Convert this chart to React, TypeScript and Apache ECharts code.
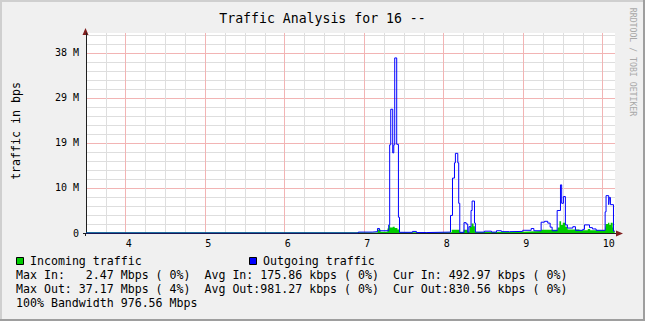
import React, { useEffect, useRef } from 'react';
import * as echarts from 'echarts';

// ---- texts ----
const TITLE = 'Traffic Analysis for 16 --';
const Y_AXIS_TITLE = 'traffic in bps';
const WATERMARK = 'RRDTOOL / TOBI OETIKER';
const legendNames = ['Incoming traffic', 'Outgoing traffic'];
const legendColors = ['#00cc00', '#0000ff'];
const statLines = [
  'Max In:   2.47 Mbps ( 0%)  Avg In: 175.86 kbps ( 0%)  Cur In: 492.97 kbps ( 0%)',
  'Max Out: 37.17 Mbps ( 4%)  Avg Out:981.27 kbps ( 0%)  Cur Out:830.56 kbps ( 0%)',
  '100% Bandwidth 976.56 Mbps',
];

// ---- axes (x: minutes after midnight, y: Mbit/s, labels in 2^20 units) ----
const X_MIN = 210;
const X_MAX = 609.25;
const Y_MAX = 44.44;
const hourTicks = [240, 300, 360, 420, 480, 540, 600];

// ---- data: step change points (minute, Mbit/s) ----
const inTimes = [210, 415.6, 430, 432.3, 437.5, 438.5, 439.5, 441.5, 443, 445, 446.6, 486, 492, 495, 498, 499.5, 501, 502.5, 503.5, 520, 539.6, 553.5, 566, 567.3, 568.6, 569.8, 571.8, 573.5, 582.4, 588.7, 590.5, 601.8, 602.3, 604, 605, 606, 607.5, 608.1, 609];
const inMbps = [0.15, 0.1, 0.8, 0.3, 1.0, 1.7, 1.2, 1.4, 1.1, 0.8, 0.15, 0.7, 0.2, 0.7, 0.3, 1.4, 2.1, 1.5, 0.2, 0.3, 0.45, 0.7, 1.2, 2.6, 1.8, 2.3, 1.4, 0.8, 0.6, 0.9, 0.6, 1.0, 2.0, 2.3, 1.8, 2.3, 1.2, 0.5, 0.5];

const outTimes = [210, 415.5, 426, 430, 431.5, 438.5, 439.2, 440, 441.5, 442.3, 443, 444.5, 445.8, 446.6, 456.4, 459.4, 466.9, 485.1, 486.6, 488.1, 488.8, 490.6, 491.3, 492.1, 495.3, 496.9, 498.1, 499, 500.6, 501.4, 503.2, 503.9, 510.7, 516, 519.8, 523.5, 529.6, 539.6, 546, 548, 553.5, 556, 558.5, 560.3, 561.8, 565.6, 568.1, 569, 570.3, 571.8, 573.3, 577.4, 579.4, 584.9, 586.2, 590, 592.2, 595, 601.8, 602.5, 604.5, 605, 605.8, 608.1, 609];
const outMbps = [0, 0.2, 0.3, 1.0, 0.5, 1.8, 19.6, 27.5, 17.8, 19.6, 38.9, 19.7, 3.5, 0.15, 0.35, 0.1, 0.2, 3.9, 12.2, 15.6, 17.7, 15.6, 6.6, 0.15, 2.3, 2.0, 0.15, 1.4, 5.0, 7.1, 2.2, 0.2, 0.4, 0.2, 0.5, 0.3, 0.35, 0.6, 1.0, 0.5, 2.4, 2.6, 2.2, 1.3, 0.5, 5.0, 10.7, 6.6, 8.1, 1.8, 1.1, 1.4, 0.6, 0.8, 1.8, 1.2, 0.9, 0.6, 4.7, 8.3, 6.3, 7.9, 6.3, 0.4, 0.4];

const MONO = '"DejaVu Sans Mono", monospace';
const MINOR = '#dedede';
const MAJOR = '#f2b4b4';
const AXIS = '#1f1f1f';
const ARROW = '#801f1f';

function pieces(line: string) {
  const out: { text: string; col: number }[] = [];
  const re = /\S+(?: \S+)*/g;
  let m: RegExpExecArray | null;
  while ((m = re.exec(line))) out.push({ text: m[0], col: m.index });
  return out;
}

export default function App() {
  const ref = useRef<HTMLDivElement>(null);
  useEffect(() => {
    if (!ref.current) return;
    const chart = echarts.init(ref.current, undefined, { renderer: 'svg' });
    const gl = 86, gt = 33, gw = 529, gh = 200;
    const charW = 6.98;
    const graphic: any[] = [
      { type: 'rect', shape: { x: 0, y: 0, width: 645, height: 2 }, style: { fill: '#cfcfcf' } },
      { type: 'rect', shape: { x: 0, y: 0, width: 2, height: 321 }, style: { fill: '#cfcfcf' } },
      { type: 'rect', shape: { x: 0, y: 319, width: 645, height: 2 }, style: { fill: '#9e9e9e' } },
      { type: 'rect', shape: { x: 643, y: 0, width: 2, height: 321 }, style: { fill: '#9e9e9e' } },
      { type: 'text', x: 322.5, y: 18, style: { text: TITLE, font: `13.2px ${MONO}`, fill: '#000', align: 'center', verticalAlign: 'middle' } },
      { type: 'text', x: 16, y: 131, rotation: Math.PI / 2, style: { text: Y_AXIS_TITLE, font: `11.6px ${MONO}`, fill: '#000', align: 'center', verticalAlign: 'middle' } },
      { type: 'text', x: 633, y: 62, rotation: -Math.PI / 2, style: { text: WATERMARK, font: `8.2px ${MONO}`, fill: '#a8a8a8', align: 'center', verticalAlign: 'middle' } },
      // axis extensions and arrows
      { type: 'line', shape: { x1: 83, y1: 233.5, x2: 86, y2: 233.5 }, style: { stroke: AXIS, lineWidth: 1 } },
      { type: 'line', shape: { x1: 85.5, y1: 233, x2: 85.5, y2: 236 }, style: { stroke: AXIS, lineWidth: 1 } },
      { type: 'line', shape: { x1: 85.5, y1: 33, x2: 85.5, y2: 30 }, style: { stroke: AXIS, lineWidth: 1 } },
      { type: 'line', shape: { x1: 615, y1: 233.5, x2: 617, y2: 233.5 }, style: { stroke: AXIS, lineWidth: 1 } },
      { type: 'polygon', shape: { points: [[82.5, 35], [88.5, 35], [85.5, 28]] }, style: { fill: ARROW } },
      { type: 'polygon', shape: { points: [[616, 230.5], [616, 236.5], [623, 233.5]] }, style: { fill: ARROW } },
    ];
    // legend row
    const legendX = [16, 249];
    legendNames.forEach((name, i) => {
      graphic.push({ type: 'rect', shape: { x: legendX[i] + 0.5, y: 257.5, width: 7, height: 7 }, style: { fill: legendColors[i], stroke: '#000', lineWidth: 1 } });
      graphic.push({ type: 'text', x: legendX[i] + 14, y: 261, style: { text: name, font: `11.6px ${MONO}`, fill: '#000', verticalAlign: 'middle' } });
    });
    statLines.forEach((line, r) => {
      pieces(line).forEach((p) => {
        graphic.push({ type: 'text', x: 16 + p.col * charW, y: 275 + r * 14, style: { text: p.text, font: `11.6px ${MONO}`, fill: '#000', verticalAlign: 'middle' } });
      });
    });

    const inData = inTimes.map((t, i) => [t, inMbps[i]]);
    const outData = outTimes.map((t, i) => [t, outMbps[i]]);

    chart.setOption({
      animation: false,
      backgroundColor: '#f0f0f0',
      grid: { left: gl, top: gt, width: gw, height: gh, show: true, backgroundColor: '#ffffff', borderWidth: 0, containLabel: false },
      xAxis: {
        type: 'value', min: X_MIN, max: X_MAX, interval: 15,
        axisLine: { show: true, lineStyle: { color: AXIS, width: 1 } },
        axisTick: { show: false },
        splitLine: { show: true, showMinLine: false, showMaxLine: false, lineStyle: { color: MINOR, width: 1 } },
        axisLabel: {
          show: true, showMinLabel: false, showMaxLabel: false, margin: 5, align: 'left',
          color: '#000', fontFamily: MONO, fontSize: 10,
          formatter: (v: number) => (hourTicks.includes(v) ? String(v / 60) : ''),
        },
      },
      yAxis: [
        {
          type: 'value', min: 0, max: Y_MAX, interval: 2,
          axisLine: { show: true, lineStyle: { color: AXIS, width: 1 } },
          axisTick: { show: false },
          axisLabel: { show: false },
          splitLine: { show: true, showMinLine: false, showMaxLine: false, lineStyle: { color: MINOR, width: 1 } },
        },
        {
          type: 'value', min: 0, max: Y_MAX, interval: 10, position: 'left',
          axisLine: { show: false }, axisTick: { show: false },
          axisLabel: {
            show: true, showMaxLabel: false, margin: 7, color: '#000', fontFamily: MONO, fontSize: 10,
            formatter: (v: number) => (v === 0 ? '0' : `${Math.round(v / 1.048576)} M`),
          },
          splitLine: { show: true, showMinLine: false, showMaxLine: false, lineStyle: { color: MAJOR, width: 1 } },
        },
      ],
      series: [
        {
          name: legendNames[0], type: 'line', step: 'end', data: inData, symbol: 'none', z: 3,
          lineStyle: { width: 0, color: legendColors[0] }, areaStyle: { color: legendColors[0], opacity: 1 },
          markLine: {
            silent: true, symbol: 'none', z: 1, animation: false,
            label: { show: false },
            lineStyle: { color: MAJOR, width: 1, type: 'solid' },
            data: hourTicks.map((t) => ({ xAxis: t })),
          },
        },
        {
          name: legendNames[1], type: 'line', step: 'end', data: outData, symbol: 'none', z: 4,
          lineStyle: { width: 1, color: legendColors[1] },
        },
      ],
      graphic,
    });
    return () => chart.dispose();
  }, []);
  return <div ref={ref} style={{ position: 'absolute', left: 0, top: 0, width: 645, height: 321 }} />;
}
